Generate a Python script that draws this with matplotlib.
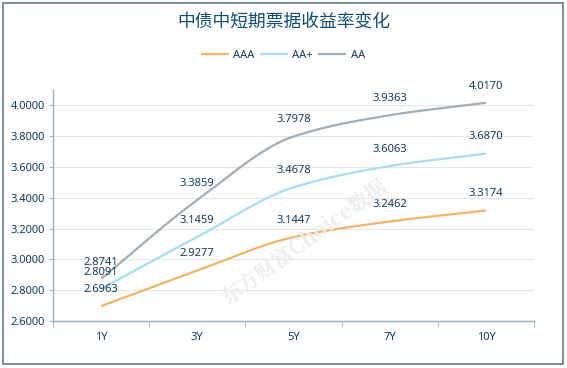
import numpy as np
import matplotlib
matplotlib.use("Agg")
import matplotlib.pyplot as plt
from matplotlib.patches import Rectangle

plt.rcParams["font.family"] = ["Noto Sans", "Noto Sans CJK SC", "DejaVu Sans"]

# -- Data ----------------------------------------------------------------------
terms = ["1Y", "3Y", "5Y", "7Y", "10Y"]
aaa = [2.6963, 2.9277, 3.1447, 3.2462, 3.3174]
aa_plus = [2.8091, 3.1459, 3.4678, 3.6063, 3.6870]
aa = [2.8741, 3.3859, 3.7978, 3.9363, 4.0170]
y_ticks = [2.6, 2.8, 3.0, 3.2, 3.4, 3.6, 3.8, 4.0]

COLOR_AAA = "#f0b56a"
COLOR_AAP = "#a8dcef"
COLOR_AA = "#a3adb4"
TEXT_COLOR = "#123c5a"
AXIS_COLOR = "#9fb0ba"


def monotone_curve(x, y, n=60):
    """Monotone cubic (Fritsch-Carlson) curve through the points, for drawing."""
    x = np.asarray(x, float)
    y = np.asarray(y, float)
    h = np.diff(x)
    d = np.diff(y) / h
    m = np.zeros_like(y)
    m[0], m[-1] = d[0], d[-1]
    for i in range(1, len(y) - 1):
        if d[i - 1] * d[i] <= 0:
            m[i] = 0
        else:
            w1 = 2 * h[i] + h[i - 1]
            w2 = h[i] + 2 * h[i - 1]
            m[i] = (w1 + w2) / (w1 / d[i - 1] + w2 / d[i])
    xs, ys = [], []
    for i in range(len(x) - 1):
        t = np.linspace(0, 1, n)
        h00 = 2 * t**3 - 3 * t**2 + 1
        h10 = t**3 - 2 * t**2 + t
        h01 = -2 * t**3 + 3 * t**2
        h11 = t**3 - t**2
        xs.append(x[i] + t * h[i])
        ys.append(h00 * y[i] + h10 * h[i] * m[i] + h01 * y[i + 1] + h11 * h[i] * m[i + 1])
    return np.concatenate(xs), np.concatenate(ys)


fig = plt.figure(figsize=(5.67, 3.68), dpi=100)
ax = fig.add_axes([53 / 567, 1 - 321 / 368, (534 - 53) / 567, (321 - 90) / 368])

# outer frame
fig.patches.append(Rectangle((3 / 567, 1 - 364 / 368), 560 / 567, 361 / 368,
                             transform=fig.transFigure, fill=False,
                             edgecolor="#6f8792", linewidth=1.3))

x = np.arange(len(terms))
for vals, col, name in [(aaa, COLOR_AAA, "AAA"), (aa_plus, COLOR_AAP, "AA+"), (aa, COLOR_AA, "AA")]:
    xs, ys = monotone_curve(x, vals)
    ax.plot(xs, ys, color=col, linewidth=1.6, label=name, solid_capstyle="butt", zorder=3)
    for xi, v in zip(x, vals):
        ax.annotate(f"{v:.4f}", (xi, v), xytext=(0, 8), textcoords="offset points",
                    ha="center", va="bottom", fontsize=8, color=TEXT_COLOR, zorder=4)

ax.set_xlim(-0.5, len(terms) - 0.5)
ax.set_ylim(2.6, 2.6 + (321 - 90) / 154.0)
ax.set_yticks(y_ticks)
ax.set_yticklabels([f"{v:.4f}" for v in y_ticks])
ax.set_xticks(x)
ax.set_xticklabels(terms)
ax.set_xticks(np.arange(len(terms) + 1) - 0.5, minor=True)
ax.tick_params(axis="x", which="major", length=0, pad=8, labelsize=8, labelcolor=TEXT_COLOR)
ax.tick_params(axis="x", which="minor", length=4, color=AXIS_COLOR, direction="out")
ax.tick_params(axis="y", length=3, color=AXIS_COLOR, labelsize=8, labelcolor=TEXT_COLOR, pad=3)

ax.grid(axis="y", color="#e6e6e6", linewidth=0.8)
ax.set_axisbelow(True)
for side in ["top", "right"]:
    ax.spines[side].set_visible(False)
for side in ["left", "bottom"]:
    ax.spines[side].set_color(AXIS_COLOR)
    ax.spines[side].set_linewidth(1)

# watermark
fig.text(305 / 567, 1 - 242 / 368, "东方财富Choice数据", fontsize=15, fontweight="bold",
         fontstyle="italic", color="#ececec", rotation=36, ha="center", va="center",
         family=["Noto Serif CJK SC", "DejaVu Serif"], zorder=0)

fig.text(284 / 567, 1 - 22 / 368, "中债中短期票据收益率变化", fontsize=12.8,
         color="#0f4e6f", ha="center", va="center", family=["Noto Sans CJK SC"])

fig.legend(loc="center", bbox_to_anchor=(283 / 567, 1 - 55 / 368), ncol=3, frameon=False,
           fontsize=8, handlelength=2.5, handletextpad=0.4, columnspacing=0.5,
           labelcolor=TEXT_COLOR)

fig.savefig("out.png", dpi=100)
